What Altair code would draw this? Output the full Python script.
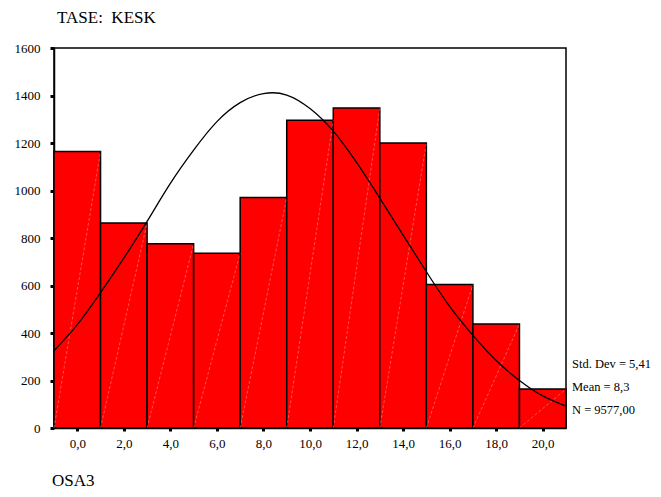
import altair as alt
import pandas as pd

# ---- data ----
bin_centers = [0, 2, 4, 6, 8, 10, 12, 14, 16, 18, 20]
counts = [1164, 863, 776, 736, 971, 1296, 1347, 1200, 604, 438, 164]

curve_x = list(range(-1, 22))
curve_y = [325, 435, 570, 715, 870, 1030, 1170, 1290, 1370, 1408, 1402, 1345,
           1250, 1118, 968, 812, 658, 512, 390, 284, 200, 135, 92]

y_ticks = [0, 200, 400, 600, 800, 1000, 1200, 1400, 1600]
x_ticks = [0, 2, 4, 6, 8, 10, 12, 14, 16, 18, 20]

title_text = "TASE:\u00a0 KESK"
x_title_text = "OSA3"
stats_labels = ["Std. Dev = 5,41", "Mean = 8,3", "N = 9577,00"]

FONT = "Liberation Serif"

bars_df = pd.DataFrame({"center": bin_centers, "count": counts})
curve_df = pd.DataFrame({"x": curve_x, "y": curve_y})

xscale = alt.Scale(domain=[-1, 21], nice=False, zero=False)
yscale = alt.Scale(domain=[0, 1600], nice=False)

xaxis = alt.Axis(values=x_ticks, title=None, grid=False,
                 labelExpr="replace(format(datum.value, '.1f'), '.', ',')",
                 labelFont=FONT, labelFontSize=13, labelColor="black",
                 tickSize=3, tickWidth=3, tickColor="black",
                 domainColor="black", domainWidth=1.5, labelPadding=6)
yaxis = alt.Axis(values=y_ticks, title=None, grid=False, format="d",
                 labelFont=FONT, labelFontSize=13, labelColor="black",
                 tickSize=4, tickWidth=3, tickColor="black",
                 domainColor="black", domainWidth=1.5, labelPadding=10)

base = alt.Chart(bars_df).transform_calculate(
    lo="datum.center - 1", hi="datum.center + 1", zero="0"
)

bars = base.mark_rect(color="#ff0000", stroke="black", strokeWidth=1.5).encode(
    x=alt.X("lo:Q", scale=xscale, axis=xaxis),
    x2="hi:Q",
    y=alt.Y("count:Q", scale=yscale, axis=yaxis),
    y2="zero:Q",
)

diags = base.mark_rule(color="white", opacity=0.45, strokeWidth=0.7,
                       strokeDash=[3, 2]).encode(
    x=alt.X("lo:Q", scale=xscale),
    x2="hi:Q",
    y=alt.Y("zero:Q", scale=yscale),
    y2="count:Q",
)

curve = alt.Chart(curve_df).mark_line(color="black", strokeWidth=1.3,
                                      interpolate="natural").encode(
    x=alt.X("x:Q", scale=xscale),
    y=alt.Y("y:Q", scale=yscale),
)

title = alt.Chart(pd.DataFrame({"t": [title_text]})).mark_text(
    align="left", baseline="alphabetic", font=FONT, fontSize=17, color="black"
).encode(x=alt.value(3), y=alt.value(-25), text="t:N")

xtitle = alt.Chart(pd.DataFrame({"t": [x_title_text]})).mark_text(
    align="left", baseline="alphabetic", font=FONT, fontSize=17, color="black"
).encode(x=alt.value(-2), y=alt.value(438), text="t:N")

stats_layers = []
for i, lab in enumerate(stats_labels):
    stats_layers.append(
        alt.Chart(pd.DataFrame({"t": [lab]})).mark_text(
            align="left", baseline="alphabetic", font=FONT, fontSize=12.5, color="black"
        ).encode(x=alt.value(518), y=alt.value(320 + i * 23), text="t:N")
    )

chart = alt.layer(bars, diags, curve, title, xtitle, *stats_layers).properties(
    width=512, height=380,
    background="white",
    autosize=alt.AutoSizeParams(type="none"),
    padding={"left": 46, "top": 40, "right": 87, "bottom": 61},
).configure_view(stroke="black", strokeWidth=1.5)

chart.save("out.html", embed_options={"renderer": "svg", "actions": False})
